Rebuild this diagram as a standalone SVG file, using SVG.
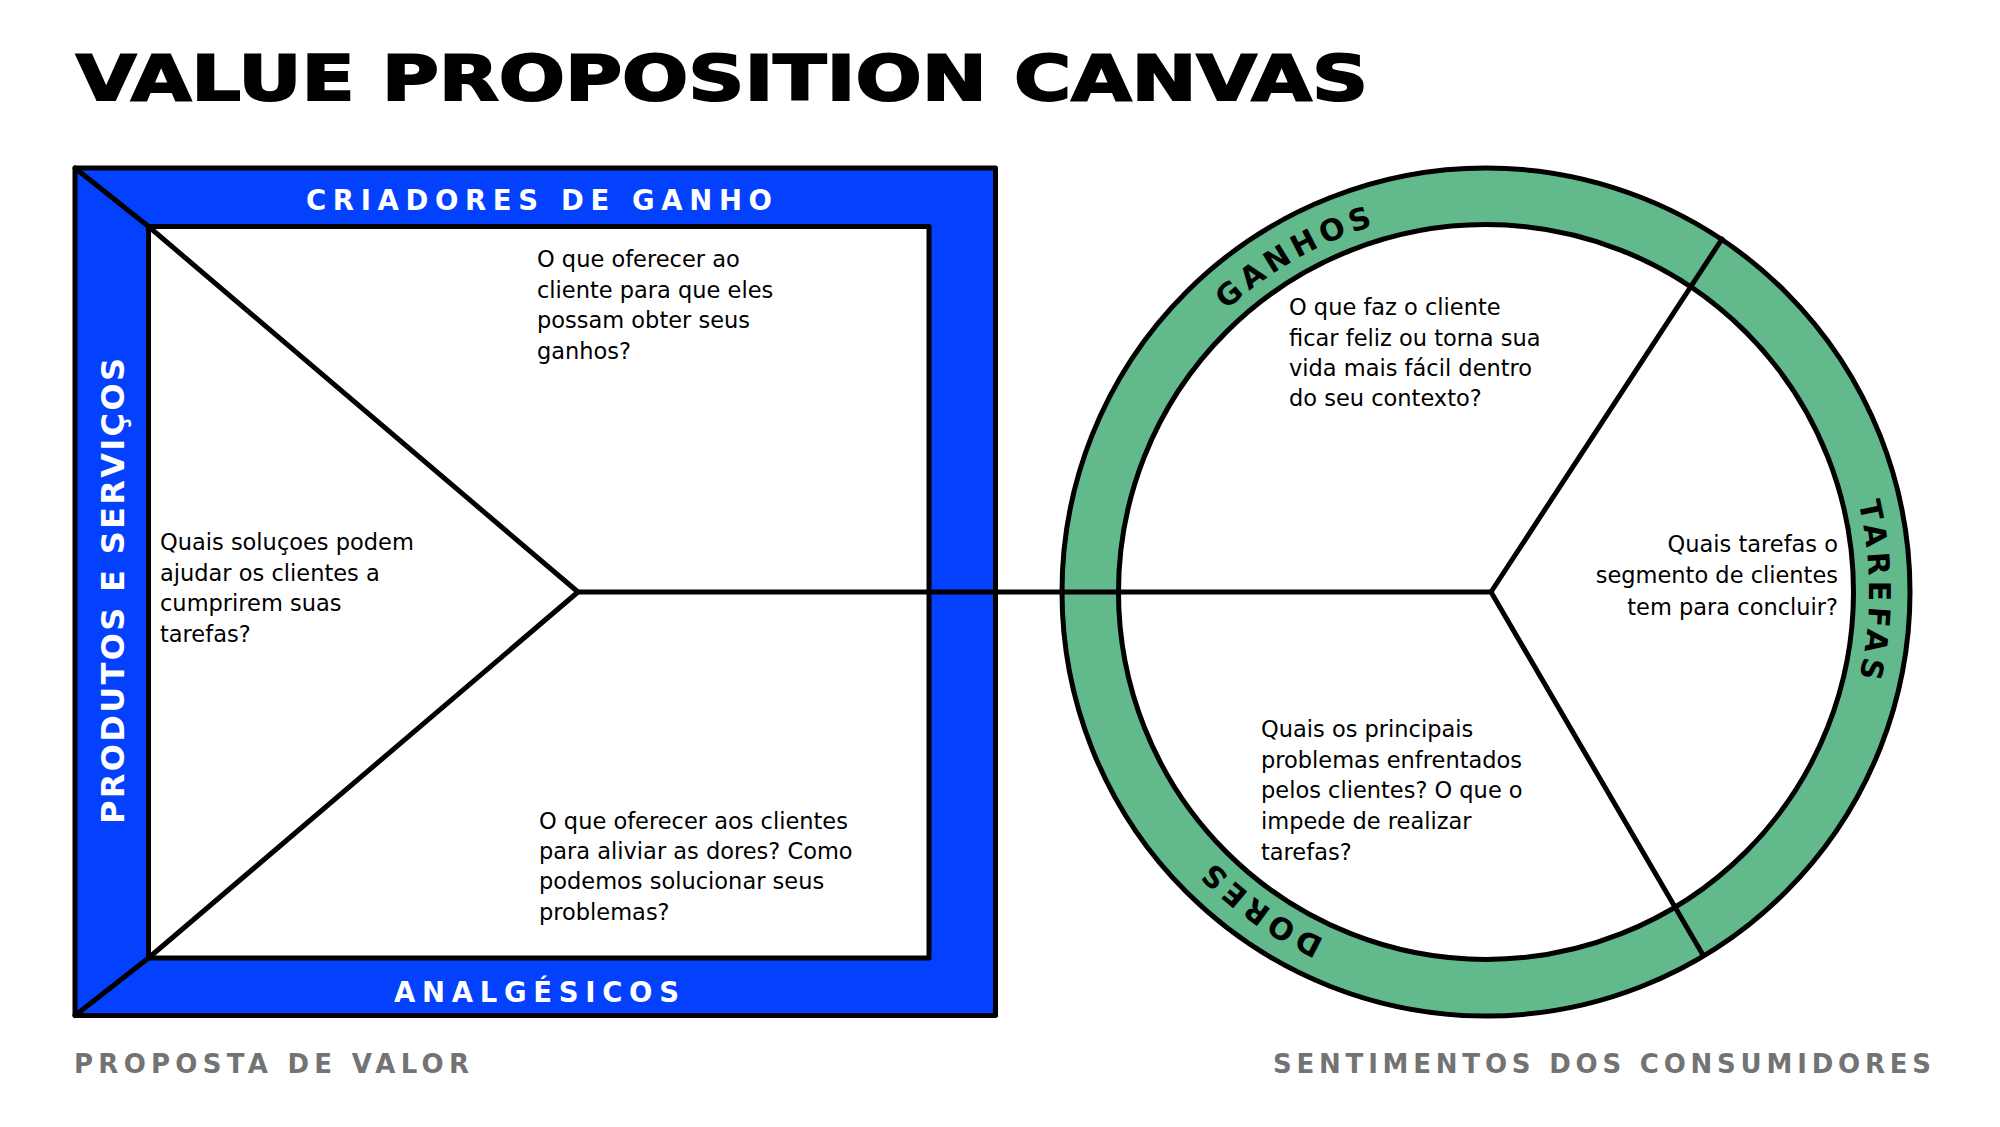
<svg xmlns="http://www.w3.org/2000/svg" xmlns:xlink="http://www.w3.org/1999/xlink" width="2000" height="1127" viewBox="0 0 2000 1127">
<defs>
<style>
.body{font-family:"DejaVu Sans","Liberation Sans",sans-serif;font-size:22.5px;fill:#000}
.hdr{font-family:"DejaVu Sans","Liberation Sans",sans-serif;font-weight:bold;fill:#fff}
.sub{font-family:"DejaVu Sans","Liberation Sans",sans-serif;font-weight:bold;font-size:26px;fill:#737373}
.ring{font-family:"DejaVu Sans","Liberation Sans",sans-serif;font-weight:bold;font-size:30px;letter-spacing:5px;fill:#000}
.ln{stroke:#000;stroke-width:5;stroke-linecap:round;stroke-linejoin:round}
.open{fill:none}
.blue{fill:#0341FE}
.green{fill:#62B98C}
.white{fill:#fff}
</style>
<path id="ringPath" d="M 1103,592 A 383 383 0 1 1 1869,592 A 383 383 0 1 1 1103,592"/>
</defs>
<rect width="2000" height="1127" fill="#fff"/>

<g id="title">
<text x="76" y="100" font-family="DejaVu Sans, Liberation Sans, sans-serif" font-weight="bold" font-size="63" stroke="#000" stroke-width="2" textLength="1292" lengthAdjust="spacingAndGlyphs">VALUE PROPOSITION CANVAS</text>
</g>

<g id="value-proposition">
<rect x="75" y="168" width="920.5" height="847.5" class="ln blue"/>
<rect x="148.5" y="226.5" width="780.5" height="731.5" class="ln white"/>
<text class="hdr" x="306" y="210" font-size="27.5" textLength="466" lengthAdjust="spacing">CRIADORES DE GANHO</text>
<text class="hdr" x="394" y="1002" font-size="27.5" textLength="285" lengthAdjust="spacing">ANALGÉSICOS</text>
<text class="hdr" transform="translate(124,824) rotate(-90)" x="0" y="0" font-size="32" textLength="466" lengthAdjust="spacing">PRODUTOS E SERVIÇOS</text>
</g>

<g id="customer-profile">
<circle cx="1486" cy="592" r="424" class="ln green"/>
<circle cx="1486" cy="592" r="367.5" class="ln white"/>
<text class="ring" text-anchor="middle"><textPath xlink:href="#ringPath" href="#ringPath" startOffset="404">GANHOS</textPath></text>
<text class="ring" text-anchor="middle"><textPath xlink:href="#ringPath" href="#ringPath" startOffset="1203">TAREFAS</textPath></text>
<text class="ring" text-anchor="middle"><textPath xlink:href="#ringPath" href="#ringPath" startOffset="2041">DORES</textPath></text>
</g>

<g id="connectors">
<line class="ln open" x1="75" y1="168" x2="148.5" y2="226.5"/>
<line class="ln open" x1="75" y1="1015.5" x2="148.5" y2="958"/>
<polyline class="ln open" points="148.5,226.5 578,592 148.5,958"/>
<line class="ln open" x1="578" y1="592" x2="1491" y2="592"/>
<line class="ln open" x1="1491" y1="592" x2="1722" y2="239"/>
<line class="ln open" x1="1491" y1="592" x2="1703" y2="955"/>
</g>

<g id="gain-creators-text">
<text class="body" x="537" y="267">O que oferecer ao</text>
<text class="body" x="537" y="298">cliente para que eles</text>
<text class="body" x="537" y="328">possam obter seus</text>
<text class="body" x="537" y="359">ganhos?</text>
</g>

<g id="products-text">
<text class="body" x="160" y="550">Quais soluçoes podem</text>
<text class="body" x="160" y="581">ajudar os clientes a</text>
<text class="body" x="160" y="611">cumprirem suas</text>
<text class="body" x="160" y="642">tarefas?</text>
</g>

<g id="pain-relievers-text">
<text class="body" x="539" y="829">O que oferecer aos clientes</text>
<text class="body" x="539" y="859">para aliviar as dores? Como</text>
<text class="body" x="539" y="889">podemos solucionar seus</text>
<text class="body" x="539" y="920">problemas?</text>
</g>

<g id="gains-text">
<text class="body" x="1289" y="315">O que faz o cliente</text>
<text class="body" x="1289" y="346">ficar feliz ou torna sua</text>
<text class="body" x="1289" y="376">vida mais fácil dentro</text>
<text class="body" x="1289" y="406">do seu contexto?</text>
</g>

<g id="jobs-text">
<text class="body" x="1838" y="552" text-anchor="end">Quais tarefas o</text>
<text class="body" x="1838" y="583" text-anchor="end">segmento de clientes</text>
<text class="body" x="1838" y="615" text-anchor="end">tem para concluir?</text>
</g>

<g id="pains-text">
<text class="body" x="1261" y="737">Quais os principais</text>
<text class="body" x="1261" y="768">problemas enfrentados</text>
<text class="body" x="1261" y="798">pelos clientes? O que o</text>
<text class="body" x="1261" y="829">impede de realizar</text>
<text class="body" x="1261" y="860">tarefas?</text>
</g>

<g id="footer">
<text class="sub" x="74" y="1073" textLength="395" lengthAdjust="spacing">PROPOSTA DE VALOR</text>
<text class="sub" x="1273" y="1073" textLength="658" lengthAdjust="spacing">SENTIMENTOS DOS CONSUMIDORES</text>
</g>
</svg>
